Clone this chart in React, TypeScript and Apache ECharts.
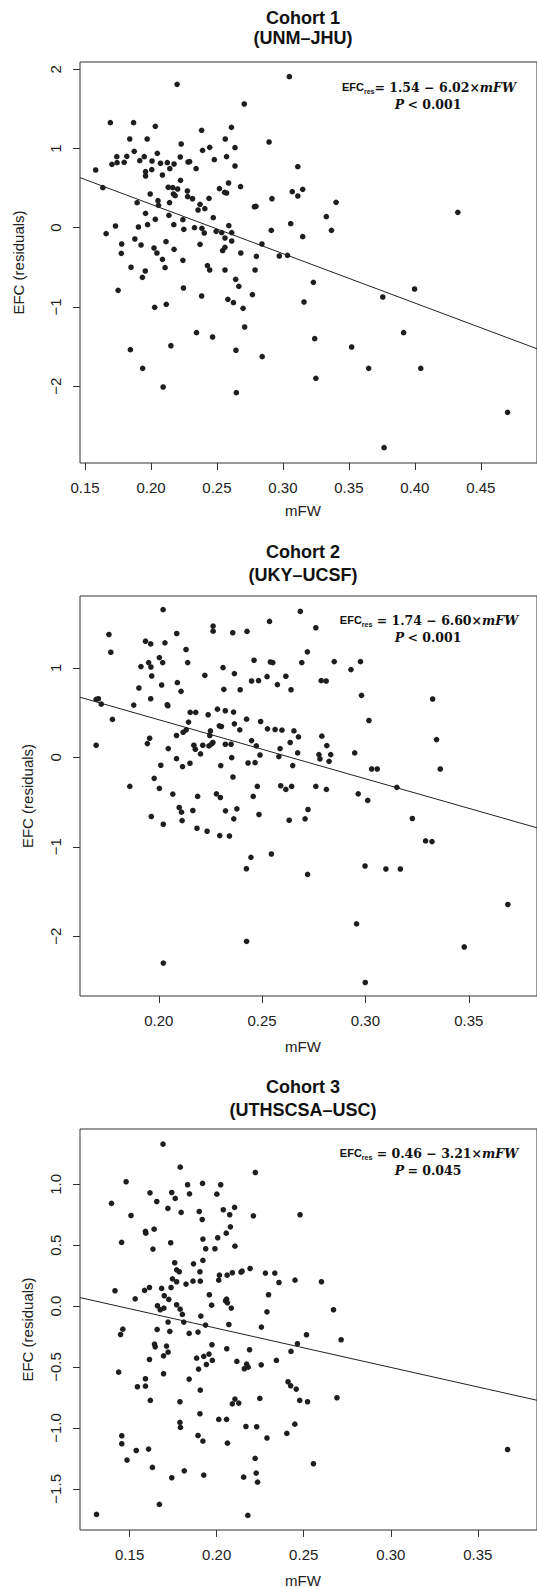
import React, { useEffect, useRef } from "react";
import * as echarts from "echarts";

// ---------- DATA ----------
const cohortTitles = [
  ["Cohort 1", "(UNM–JHU)"],
  ["Cohort 2", "(UKY–UCSF)"],
  ["Cohort 3", "(UTHSCSA–USC)"],
];
const equationTexts = [
  { intercept: "1.54", slope: "6.02", eqSep: "= ", p: "< 0.001" },
  { intercept: "1.74", slope: "6.60", eqSep: " = ", p: "< 0.001" },
  { intercept: "0.46", slope: "3.21", eqSep: " = ", p: "= 0.045" },
];
const xAxisTitle = "mFW";
const yAxisTitle = "EFC (residuals)";

const xTicks1 = [0.15, 0.2, 0.25, 0.3, 0.35, 0.4, 0.45];
const xTicks2 = [0.2, 0.25, 0.3, 0.35];
const xTicks3 = [0.15, 0.2, 0.25, 0.3, 0.35];
const yTicks1 = [-2, -1, 0, 1, 2];
const yTicks2 = [-2, -1, 0, 1];
const yTicks3 = [-1.5, -1, -0.5, 0, 0.5, 1];

const xRange1 = [0.1462, 0.4926];
const yRange1 = [-2.971, 2.092];
const xRange2 = [0.1619, 0.383];
const yRange2 = [-2.667, 1.802];
const xRange3 = [0.1215, 0.384];
const yRange3 = [-1.838, 1.454];

// regression line end points [mFW, EFC]
const fitLine1 = [[0.1462, 0.632], [0.4926, -1.529]];
const fitLine2 = [[0.1619, 0.671], [0.383, -0.788]];
const fitLine3 = [[0.1215, 0.07], [0.384, -0.773]];

// points [mFW, EFC residual]
const cohort1 = [
  [0.2198, 1.81], [0.3049, 1.907], [0.2707, 1.562],
  [0.1692, 1.326], [0.1868, 1.326], [0.2033, 1.28], [0.2384, 1.229], [0.261, 1.267],
  [0.1839, 1.12], [0.1971, 1.12], [0.2229, 1.057], [0.2563, 1.12], [0.2445, 1.015],
  [0.2391, 0.977], [0.2637, 1.01], [0.2895, 1.082], [0.1873, 0.964], [0.2048, 0.939],
  [0.1741, 0.897], [0.1817, 0.901], [0.1949, 0.897], [0.2222, 0.893], [0.2573, 0.897],
  [0.1704, 0.8], [0.1743, 0.821], [0.1797, 0.825], [0.1915, 0.846], [0.2008, 0.842],
  [0.2072, 0.813], [0.2124, 0.821], [0.2175, 0.804], [0.2281, 0.829], [0.2293, 0.834],
  [0.248, 0.859], [0.2143, 0.745], [0.2342, 0.745], [0.2637, 0.779], [0.3113, 0.771],
  [0.1581, 0.728], [0.1959, 0.707], [0.2006, 0.733], [0.1959, 0.653], [0.2087, 0.665],
  [0.2224, 0.598], [0.2588, 0.564], [0.1635, 0.505], [0.2131, 0.51], [0.2165, 0.505],
  [0.2202, 0.489], [0.2276, 0.463], [0.2519, 0.493], [0.2558, 0.446], [0.2573, 0.438],
  [0.2679, 0.518], [0.3071, 0.455], [0.315, 0.484], [0.3113, 0.4], [0.1994, 0.425],
  [0.217, 0.425], [0.2183, 0.404], [0.2278, 0.392], [0.2315, 0.366], [0.244, 0.371],
  [0.2917, 0.366], [0.1895, 0.316], [0.2053, 0.341], [0.2057, 0.282], [0.2141, 0.316],
  [0.2372, 0.295], [0.2357, 0.223], [0.2408, 0.24], [0.2784, 0.265], [0.2796, 0.27],
  [0.3403, 0.32], [0.1959, 0.181], [0.2136, 0.156], [0.2242, 0.101], [0.2033, 0.106],
  [0.2472, 0.127], [0.3329, 0.139], [0.1731, 0.021], [0.1905, 0.009], [0.1974, 0.038],
  [0.2173, 0.038], [0.2249, -0.021], [0.233, 0.0], [0.2386, -0.008], [0.2404, -0.067],
  [0.2494, -0.046], [0.2536, -0.063], [0.259, 0.026], [0.2561, -0.13], [0.2612, -0.063],
  [0.2912, -0.033], [0.3059, 0.051], [0.3368, -0.033], [0.166, -0.075], [0.315, -0.113],
  [0.1878, -0.143], [0.1778, -0.206], [0.1925, -0.218], [0.2114, -0.176], [0.2372, -0.21],
  [0.2612, -0.168], [0.2841, -0.206], [0.1775, -0.324], [0.2023, -0.256], [0.2045, -0.319],
  [0.2175, -0.273], [0.2543, -0.29], [0.2561, -0.248], [0.2681, -0.319], [0.2799, -0.362],
  [0.2973, -0.357], [0.3035, -0.349], [0.2087, -0.4], [0.2242, -0.412],
  [0.1849, -0.5], [0.1957, -0.547], [0.2107, -0.505], [0.2428, -0.479], [0.2445, -0.534],
  [0.2561, -0.534], [0.2789, -0.534], [0.1935, -0.627], [0.2642, -0.652], [0.2666, -0.74],
  [0.3231, -0.69], [0.1751, -0.791], [0.2246, -0.761], [0.2384, -0.862], [0.2769, -0.846],
  [0.2583, -0.905], [0.2625, -0.947], [0.316, -0.938], [0.2028, -1.006], [0.2116, -0.968],
  [0.2698, -1.018], [0.271, -1.254], [0.2345, -1.325], [0.2467, -1.38], [0.3241, -1.401],
  [0.3521, -1.506], [0.1844, -1.54], [0.2151, -1.49], [0.2644, -1.548], [0.2843, -1.628],
  [0.1937, -1.776], [0.365, -1.776], [0.2092, -2.012], [0.2647, -2.083], [0.325, -1.902],
  [0.4326, 0.194], [0.3998, -0.774], [0.3757, -0.875], [0.3915, -1.325], [0.4045, -1.776],
  [0.4703, -2.331], [0.3767, -2.777],
];

const cohort2 = [
  [0.2021, 1.649], [0.2685, 1.63], [0.1759, 1.372], [0.2087, 1.383], [0.2263, 1.466],
  [0.2263, 1.409], [0.2358, 1.391], [0.2427, 1.406], [0.2536, 1.518], [0.276, 1.447],
  [0.1936, 1.297], [0.1961, 1.267], [0.203, 1.279], [0.1768, 1.174], [0.2132, 1.204],
  [0.2719, 1.178], [0.1951, 1.058], [0.1962, 1.009], [0.1914, 1.013], [0.2003, 1.114],
  [0.2019, 1.058], [0.214, 1.058], [0.2461, 1.084], [0.254, 1.065], [0.2552, 1.058],
  [0.2692, 1.058], [0.2849, 1.069], [0.2976, 1.069], [0.293, 0.98], [0.2311, 1.002],
  [0.2366, 0.935], [0.2223, 0.916], [0.1966, 0.908], [0.2524, 0.901], [0.2615, 0.905],
  [0.209, 0.834], [0.2014, 0.808], [0.2449, 0.852], [0.2483, 0.856], [0.2574, 0.811],
  [0.2786, 0.856], [0.281, 0.852], [0.1904, 0.774], [0.2108, 0.737], [0.2315, 0.759],
  [0.2394, 0.755], [0.264, 0.755], [0.2981, 0.692], [0.1961, 0.654], [0.1697, 0.647],
  [0.1708, 0.654], [0.1722, 0.594], [0.1879, 0.583], [0.2041, 0.587], [0.2044, 0.576],
  [0.2284, 0.538], [0.2152, 0.501], [0.2179, 0.501], [0.2239, 0.475], [0.2322, 0.52],
  [0.2362, 0.505], [0.1776, 0.423], [0.2425, 0.426], [0.2144, 0.393], [0.2493, 0.4],
  [0.3017, 0.411], [0.2293, 0.351], [0.2303, 0.344], [0.2366, 0.374], [0.2118, 0.28],
  [0.2133, 0.307], [0.225, 0.295], [0.2392, 0.307], [0.2526, 0.318], [0.2563, 0.31],
  [0.2596, 0.303], [0.2654, 0.295], [0.2086, 0.243], [0.2247, 0.243], [0.2676, 0.228],
  [0.2789, 0.236], [0.2449, 0.187], [0.2636, 0.165], [0.1697, 0.135], [0.1945, 0.153],
  [0.1956, 0.213], [0.217, 0.135], [0.2213, 0.135], [0.2243, 0.127], [0.2256, 0.15],
  [0.2262, 0.165], [0.2322, 0.146], [0.235, 0.146], [0.2472, 0.127], [0.2813, 0.131],
  [0.2046, 0.097], [0.2177, 0.09], [0.2587, 0.097], [0.2672, 0.049], [0.2948, 0.049],
  [0.2202, 0.038], [0.249, 0.026], [0.2775, 0.03], [0.278, -0.018], [0.2824, -0.045],
  [0.2832, 0.03], [0.2086, -0.015], [0.2151, -0.067], [0.2353, -0.004], [0.2432, -0.064],
  [0.2466, -0.06], [0.2581, 0.008], [0.2648, -0.093], [0.2115, -0.104], [0.23, -0.093],
  [0.201, -0.089], [0.1978, -0.235], [0.2359, -0.22], [0.186, -0.325], [0.2003, -0.348],
  [0.2477, -0.325], [0.259, -0.318], [0.2615, -0.359], [0.2643, -0.325], [0.276, -0.325],
  [0.2811, -0.359],
  [0.2965, -0.408], [0.3011, -0.482], [0.2068, -0.411], [0.2188, -0.437], [0.2279, -0.408],
  [0.2298, -0.449], [0.2457, -0.437], [0.2099, -0.561], [0.211, -0.613], [0.2165, -0.594],
  [0.2323, -0.598], [0.2378, -0.576], [0.2722, -0.583], [0.1964, -0.662], [0.2022, -0.748],
  [0.2113, -0.707], [0.2363, -0.688], [0.2485, -0.639], [0.2631, -0.703], [0.2708, -0.688],
  [0.2185, -0.793], [0.2234, -0.826], [0.2295, -0.875], [0.2342, -0.879], [0.2446, -1.118],
  [0.2545, -1.08], [0.2424, -1.245], [0.272, -1.308], [0.2998, -1.215],
  [0.2425, -2.056], [0.2022, -2.299], [0.2957, -1.861], [0.2999, -2.516],
  [0.3325, 0.651], [0.3344, 0.198], [0.3362, -0.131], [0.3152, -0.336], [0.3227, -0.684],
  [0.3291, -0.934], [0.3322, -0.942], [0.3099, -1.248], [0.3169, -1.248], [0.3689, -1.645],
  [0.3478, -2.119], [0.303, -0.131], [0.3057, -0.131],
];

const cohort3 = [
  [0.1692, 1.33], [0.1791, 1.141],
  [0.2222, 1.097], [0.148, 1.021], [0.1833, 0.996], [0.1919, 1.007], [0.2023, 0.996],
  [0.1617, 0.93], [0.1742, 0.933], [0.1762, 0.884], [0.1844, 0.922], [0.2001, 0.919],
  [0.1396, 0.843], [0.1656, 0.859], [0.172, 0.802], [0.1796, 0.769], [0.19, 0.777],
  [0.1917, 0.711], [0.2038, 0.791], [0.2075, 0.75], [0.2103, 0.81], [0.2211, 0.741],
  [0.2479, 0.75], [0.1508, 0.744], [0.1591, 0.613], [0.1593, 0.599], [0.1641, 0.632],
  [0.1454, 0.523], [0.1634, 0.468], [0.1736, 0.52], [0.1921, 0.55], [0.2006, 0.561],
  [0.2055, 0.599], [0.2079, 0.651], [0.1937, 0.471], [0.199, 0.471], [0.2105, 0.492],
  [0.1759, 0.356], [0.1867, 0.347], [0.1921, 0.375], [0.177, 0.298], [0.1785, 0.282],
  [0.1904, 0.282], [0.1746, 0.224], [0.177, 0.2], [0.1824, 0.181], [0.1864, 0.205],
  [0.1906, 0.205], [0.2016, 0.254], [0.2012, 0.213], [0.206, 0.254], [0.209, 0.274],
  [0.214, 0.279], [0.2146, 0.287], [0.2192, 0.309], [0.228, 0.271], [0.2334, 0.271],
  [0.2358, 0.194], [0.245, 0.213], [0.2602, 0.2], [0.1416, 0.126], [0.1586, 0.129],
  [0.1614, 0.153], [0.1684, 0.145], [0.1738, 0.153], [0.1532, 0.06], [0.1699, 0.085],
  [0.1725, 0.055], [0.1958, 0.093], [0.2298, 0.093], [0.166, 0.003], [0.1676, -0.03],
  [0.1697, -0.016], [0.177, 0.011], [0.179, -0.025], [0.1803, -0.068], [0.1909, -0.082],
  [0.1971, 0.008], [0.2051, 0.044], [0.2062, 0.027], [0.2057, 0.057], [0.2084, -0.016],
  [0.2289, -0.047], [0.2671, -0.03],
  [0.1721, -0.131], [0.1811, -0.131], [0.1936, -0.156], [0.207, -0.151], [0.2257, -0.172],
  [0.2516, -0.235], [0.2715, -0.276], [0.1461, -0.189], [0.1448, -0.233], [0.1658, -0.192],
  [0.1731, -0.208], [0.1842, -0.224], [0.1893, -0.213], [0.1643, -0.312], [0.1647, -0.334],
  [0.1712, -0.328], [0.1721, -0.378], [0.1695, -0.408], [0.1973, -0.317], [0.2058, -0.35],
  [0.2189, -0.358], [0.2464, -0.309], [0.2427, -0.372], [0.1614, -0.438], [0.1885, -0.427],
  [0.1926, -0.413], [0.1956, -0.394], [0.1975, -0.446], [0.1941, -0.479], [0.1896, -0.517],
  [0.2116, -0.454], [0.2159, -0.514], [0.2172, -0.476], [0.2181, -0.501], [0.2256, -0.482],
  [0.2343, -0.446], [0.1437, -0.542], [0.1695, -0.555], [0.1842, -0.599], [0.1591, -0.596],
  [0.1545, -0.662], [0.1591, -0.657], [0.1906, -0.69], [0.241, -0.621], [0.2425, -0.654],
  [0.2457, -0.681], [0.1619, -0.774], [0.1789, -0.785], [0.209, -0.802], [0.2105, -0.763],
  [0.2127, -0.796], [0.2248, -0.758], [0.2477, -0.774], [0.2522, -0.785], [0.2691, -0.752],
  [0.1904, -0.884], [0.2012, -0.93], [0.2057, -0.93], [0.1789, -0.955], [0.1792, -0.996],
  [0.2168, -0.988], [0.223, -0.99], [0.2449, -0.969], [0.1455, -1.064], [0.1455, -1.13],
  [0.1893, -1.062], [0.1921, -1.108], [0.2062, -1.125], [0.2289, -1.083], [0.2403, -1.045],
  [0.1538, -1.185], [0.1609, -1.174], [0.1485, -1.264], [0.1631, -1.324], [0.1742, -1.409],
  [0.1814, -1.352], [0.1926, -1.387], [0.2155, -1.404], [0.2221, -1.25], [0.2227, -1.371],
  [0.2235, -1.445], [0.2556, -1.294], [0.131, -1.71], [0.1671, -1.628], [0.2179, -1.718],
  [0.3671, -1.177],
];

// ---------- LAYOUT ----------
const panels = [
  {
    points: cohort1, line: fitLine1, xr: xRange1, yr: yRange1, xt: xTicks1, yt: yTicks1, yDec: 0,
    top: 62, height: 401, t1: 17.5, t2: 38, eqY: 87, xNameY: 510, yNameX: 18,
  },
  {
    points: cohort2, line: fitLine2, xr: xRange2, yr: yRange2, xt: xTicks2, yt: yTicks2, yDec: 0,
    top: 596, height: 400, t1: 551.5, t2: 575, eqY: 620, xNameY: 1046, yNameX: 27,
  },
  {
    points: cohort3, line: fitLine3, xr: xRange3, yr: yRange3, xt: xTicks3, yt: yTicks3, yDec: 1,
    top: 1129, height: 401, t1: 1087, t2: 1110, eqY: 1153, xNameY: 1580, yNameX: 27,
  },
];

const SANS = "'Liberation Sans', Arial, Helvetica, sans-serif";
const SERIF = "'DejaVu Serif', 'Liberation Serif', serif";
const INK = "#1e1e1e";

const fmtNum = (v: number, d: number) => {
  const r = Math.abs(v) < 1e-9 ? 0 : v;
  return (r < 0 ? "\u2212" : "") + Math.abs(r).toFixed(d);
};

function buildOption() {
  const grid: any[] = [];
  const xAxis: any[] = [];
  const yAxis: any[] = [];
  const series: any[] = [];
  const graphic: any[] = [];

  panels.forEach((p, i) => {
    grid.push({
      left: 80, top: p.top, width: 460, height: p.height,
      show: true, borderColor: "#333", borderWidth: 1, backgroundColor: "transparent",
    });
    xAxis.push({
      type: "value", gridIndex: i, min: p.xr[0], max: p.xr[1], position: "bottom",
      splitLine: { show: false }, axisLine: { show: false, onZero: false },
      axisTick: { show: true, length: 7, inside: false, customValues: p.xt, lineStyle: { color: "#333", width: 1 } },
      axisLabel: {
        show: true, customValues: p.xt, margin: 17, fontSize: 15, lineHeight: 15,
        fontFamily: SANS, color: "#222", formatter: (v: number) => fmtNum(v, 2),
      },
    });
    yAxis.push({
      type: "value", gridIndex: i, min: p.yr[0], max: p.yr[1], position: "left",
      splitLine: { show: false }, axisLine: { show: false, onZero: false },
      axisTick: { show: true, length: 7, inside: false, customValues: p.yt, lineStyle: { color: "#333", width: 1 } },
      axisLabel: {
        show: true, customValues: p.yt, rotate: 90, margin: 17, fontSize: 15, lineHeight: 15,
        fontFamily: SANS, color: "#222", formatter: (v: number) => fmtNum(v, p.yDec),
      },
    });
    series.push({
      type: "scatter", xAxisIndex: i, yAxisIndex: i, data: p.points,
      symbol: "circle", symbolSize: 5.6, itemStyle: { color: INK, opacity: 1 },
      silent: true,
    });
    series.push({
      type: "line", xAxisIndex: i, yAxisIndex: i, data: p.line,
      symbol: "none", lineStyle: { color: "#222", width: 1 }, silent: true,
    });

    // titles
    graphic.push({
      type: "text", x: 303, y: p.t1,
      style: { text: cohortTitles[i][0], font: `bold 18px ${SANS}`, fill: "#111", align: "center", verticalAlign: "middle" },
    });
    graphic.push({
      type: "text", x: 303, y: p.t2,
      style: { text: cohortTitles[i][1], font: `bold 18px ${SANS}`, fill: "#111", align: "center", verticalAlign: "middle" },
    });
    // axis titles
    graphic.push({
      type: "text", x: 303, y: p.xNameY,
      style: { text: xAxisTitle, font: `15px ${SANS}`, fill: "#222", align: "center", verticalAlign: "middle" },
    });
    graphic.push({
      type: "text", x: p.yNameX, y: p.top + p.height / 2, rotation: Math.PI / 2,
      style: { text: yAxisTitle, font: `15px ${SANS}`, fill: "#222", align: "center", verticalAlign: "middle" },
    });
    // equation
    const eq = equationTexts[i];
    graphic.push({
      type: "text", x: 429, y: p.eqY,
      style: {
        text: `{a|EFC}{b|res}{c|${eq.eqSep}${eq.intercept} \u2212 ${eq.slope}×}{d|mFW}`,
        align: "center", verticalAlign: "middle", fill: "#111",
        rich: {
          a: { fontFamily: SANS, fontWeight: "bold", fontSize: 11, lineHeight: 16, verticalAlign: "middle", fill: "#111" },
          b: { fontFamily: SANS, fontWeight: "bold", fontSize: 7, lineHeight: 16, verticalAlign: "bottom", fill: "#111" },
          c: { fontFamily: SERIF, fontWeight: "bold", fontSize: 12.5, lineHeight: 16, verticalAlign: "middle", fill: "#111" },
          d: { fontFamily: SERIF, fontWeight: "bold", fontStyle: "italic", fontSize: 12.5, lineHeight: 16, verticalAlign: "middle", fill: "#111" },
        },
      },
    });
    graphic.push({
      type: "text", x: 428, y: p.eqY + 17,
      style: {
        text: `{d|P} {c|${eq.p}}`,
        align: "center", verticalAlign: "middle", fill: "#111",
        rich: {
          c: { fontFamily: SERIF, fontWeight: "bold", fontSize: 12.5, lineHeight: 16, fill: "#111" },
          d: { fontFamily: SERIF, fontWeight: "bold", fontStyle: "italic", fontSize: 12.5, lineHeight: 16, fill: "#111" },
        },
      },
    });
  });

  return {
    animation: false,
    backgroundColor: "#ffffff",
    grid, xAxis, yAxis, series, graphic,
  };
}

export default function App() {
  const ref = useRef<HTMLDivElement>(null);
  useEffect(() => {
    if (!ref.current) return;
    const chart = echarts.init(ref.current, null, { renderer: "svg" });
    chart.setOption(buildOption());
    return () => chart.dispose();
  }, []);
  return (
    <div
      ref={ref}
      style={{ position: "absolute", left: 0, top: 0, width: 537, height: 1587, background: "#fff" }}
    />
  );
}
